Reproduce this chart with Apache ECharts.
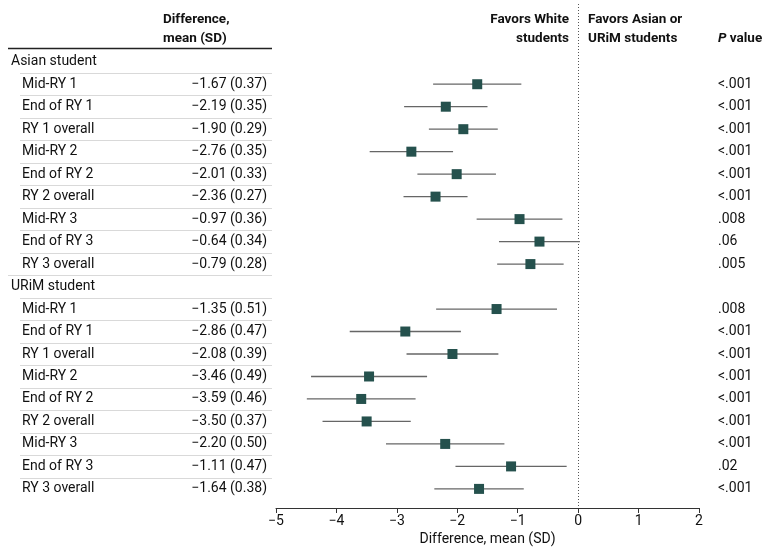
<!DOCTYPE html>
<html><head><meta charset="utf-8">
<script src="https://cdn.jsdelivr.net/npm/echarts@6/dist/echarts.min.js"></script>
<style>html,body{margin:0;padding:0;background:#fff}#c{width:780px;height:560px}</style>
</head><body><div id="c"></div>
<script>
// ---- data ----
const groups = ['Asian student', 'URiM student'];
const periods = ['Mid-RY 1','End of RY 1','RY 1 overall','Mid-RY 2','End of RY 2','RY 2 overall','Mid-RY 3','End of RY 3','RY 3 overall'];
const asianMean = [-1.67,-2.19,-1.90,-2.76,-2.01,-2.36,-0.97,-0.64,-0.79];
const asianSD   = [0.37,0.35,0.29,0.35,0.33,0.27,0.36,0.34,0.28];
const asianLo   = [-2.40,-2.88,-2.47,-3.45,-2.66,-2.89,-1.68,-1.31,-1.34];
const asianHi   = [-0.94,-1.50,-1.33,-2.07,-1.36,-1.83,-0.26,0.03,-0.24];
const asianP    = ['<.001','<.001','<.001','<.001','<.001','<.001','.008','.06','.005'];
const urimMean  = [-1.35,-2.86,-2.08,-3.46,-3.59,-3.50,-2.20,-1.11,-1.64];
const urimSD    = [0.51,0.47,0.39,0.49,0.46,0.37,0.50,0.47,0.38];
const urimLo    = [-2.35,-3.78,-2.84,-4.42,-4.49,-4.23,-3.18,-2.03,-2.38];
const urimHi    = [-0.35,-1.94,-1.32,-2.50,-2.69,-2.77,-1.22,-0.19,-0.90];
const urimP     = ['.008','<.001','<.001','<.001','<.001','<.001','<.001','.02','<.001'];
const xTicks = [-5,-4,-3,-2,-1,0,1,2];

// ---- build rows ----
const rows = [];
const sets = [[asianMean,asianSD,asianLo,asianHi,asianP],[urimMean,urimSD,urimLo,urimHi,urimP]];
groups.forEach((g, gi) => {
  rows.push({label: g, header: true});
  const s = sets[gi];
  periods.forEach((p, k) => rows.push({label: p, header: false, mean: s[0][k], sd: s[1][k], lo: s[2][k], hi: s[3][k], p: s[4][k]}));
});
const fmt = v => (v < 0 ? '\u2212' : '') + Math.abs(v).toFixed(2);

const FONT = 'Roboto, "Noto Sans", sans-serif';
const TXT = '#111';
const FS = 14;

const tableData = rows.map((r, i) => [0, i]);
const markerData = [], whiskerData = [], pData = [];
rows.forEach((r, i) => {
  if (!r.header) {
    markerData.push([r.mean, i]);
    whiskerData.push([r.lo, r.hi, i]);
    pData.push([xTicks[xTicks.length - 1], i]);
  }
});

const chart = echarts.init(document.getElementById('c'), null, {renderer: 'canvas'});
const yCommon = {type: 'value', inverse: true, min: -0.5, max: 19.85, show: false};

chart.setOption({
  animation: false,
  grid: [
    {left: 276, right: 81, top: 50.5, bottom: 52},
    {left: 8, width: 264, top: 50.5, bottom: 52}
  ],
  xAxis: [
    {type: 'value', gridIndex: 0, min: xTicks[0], max: xTicks[xTicks.length - 1], interval: 1,
     axisLine: {show: true, onZero: false, lineStyle: {color: '#333', width: 1}},
     axisTick: {show: true, length: 5, lineStyle: {color: '#333'}},
     splitLine: {show: false},
     axisLabel: {color: TXT, fontFamily: FONT, fontSize: FS, margin: 6,
       formatter: v => (v < 0 ? '\u2212' : '') + Math.abs(v)},
     name: 'Difference, mean (SD)', nameLocation: 'middle', nameGap: 24,
     nameTextStyle: {color: TXT, fontFamily: FONT, fontSize: FS}},
    {type: 'value', gridIndex: 1, min: 0, max: 1, show: false}
  ],
  yAxis: [
    Object.assign({gridIndex: 0}, yCommon),
    Object.assign({gridIndex: 1}, yCommon)
  ],
  series: [
    {
      type: 'custom', xAxisIndex: 1, yAxisIndex: 1, data: tableData, silent: true,
      renderItem: (params, api) => {
        const i = api.value(1);
        const r = rows[i];
        const p0 = api.coord([0, i]);
        const p1 = api.coord([1, i]);
        const h = api.size([0, 1])[1];
        const ch = [];
        ch.push({type: 'text', style: {text: r.label, x: p0[0] + (r.header ? 3 : 14), y: p0[1],
          align: 'left', verticalAlign: 'middle', fill: TXT, fontFamily: FONT, fontSize: FS}});
        if (!r.header) {
          ch.push({type: 'text', style: {text: fmt(r.mean) + ' (' + r.sd.toFixed(2) + ')', x: p1[0] - 5, y: p0[1],
            align: 'right', verticalAlign: 'middle', fill: TXT, fontFamily: FONT, fontSize: FS}});
        }
        if (i < rows.length - 1) {
          const nextHeader = rows[i + 1].header;
          const yy = Math.round(p0[1] + h / 2) + 0.5;
          ch.push({type: 'line', shape: {x1: p0[0] + (nextHeader ? 0 : 12), y1: yy, x2: p1[0], y2: yy},
            style: {stroke: '#d9d9d9', lineWidth: 1}});
        }
        return {type: 'group', children: ch};
      }
    },
    {
      type: 'custom', xAxisIndex: 0, yAxisIndex: 0, data: whiskerData, silent: true, z: 2,
      renderItem: (params, api) => {
        const a = api.coord([api.value(0), api.value(2)]);
        const b = api.coord([api.value(1), api.value(2)]);
        return {type: 'line', shape: {x1: a[0], y1: a[1], x2: b[0], y2: b[1]},
          style: {stroke: '#666', lineWidth: 1.3}};
      }
    },
    {
      type: 'scatter', xAxisIndex: 0, yAxisIndex: 0, data: markerData, symbol: 'rect', symbolSize: 10,
      itemStyle: {color: '#25514d', opacity: 1}, z: 3, silent: true
    },
    {
      type: 'custom', xAxisIndex: 0, yAxisIndex: 0, data: pData, silent: true,
      renderItem: (params, api) => {
        const i = api.value(1);
        const c = api.coord([api.value(0), i]);
        return {type: 'text', style: {text: rows[i].p, x: c[0] + 19, y: c[1], align: 'left', verticalAlign: 'middle',
          fill: TXT, fontFamily: FONT, fontSize: FS}};
      }
    }
  ]
});

const x0 = Math.round(chart.convertToPixel({xAxisIndex: 0}, 0)) + 0.5;
const HFS = 13.5;
const bold = {fill: TXT, fontFamily: FONT, fontSize: HFS, fontWeight: 'bold', verticalAlign: 'middle'};
chart.setOption({
  graphic: [
    {type: 'line', shape: {x1: x0, y1: 4, x2: x0, y2: 508}, style: {stroke: '#555', lineWidth: 1, lineDash: [1, 2]}, z: 1},
    {type: 'line', shape: {x1: 8, y1: 48.5, x2: 272, y2: 48.5}, style: {stroke: '#222', lineWidth: 1.5}},
    {type: 'text', x: 163, y: 20, style: Object.assign({text: 'Difference,', align: 'left'}, bold)},
    {type: 'text', x: 163, y: 39, style: Object.assign({text: 'mean (SD)', align: 'left'}, bold)},
    {type: 'text', x: 569, y: 20, style: Object.assign({text: 'Favors White', align: 'right'}, bold)},
    {type: 'text', x: 569, y: 39, style: Object.assign({text: 'students', align: 'right'}, bold)},
    {type: 'text', x: 588, y: 20, style: Object.assign({text: 'Favors Asian or', align: 'left'}, bold)},
    {type: 'text', x: 588, y: 39, style: Object.assign({text: 'URiM students', align: 'left'}, bold)},
    {type: 'text', x: 718, y: 39, style: Object.assign({text: '{i|P} value', align: 'left',
      rich: {i: {fontStyle: 'italic', fontWeight: 'bold', fontFamily: FONT, fontSize: HFS, fill: TXT}}}, bold)}
  ]
});
</script>
</body></html>
